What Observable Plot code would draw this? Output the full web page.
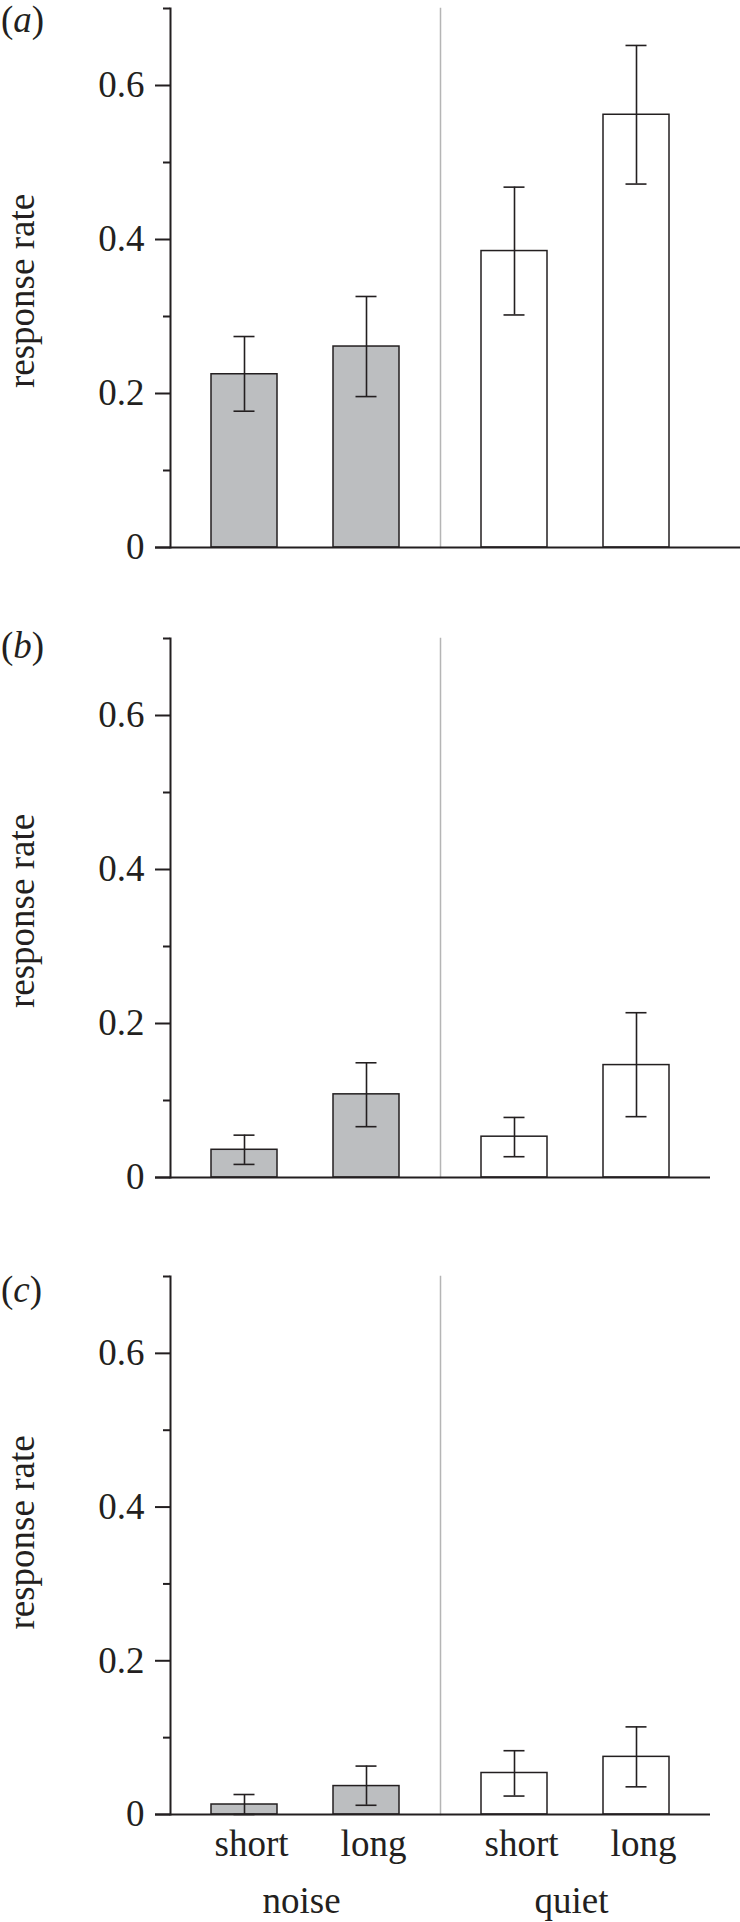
<!DOCTYPE html>
<html><head><meta charset="utf-8">
<script src="https://cdn.jsdelivr.net/npm/d3@7"></script>
<script src="https://cdn.jsdelivr.net/npm/@observablehq/plot@0.6"></script>
<style>
body{margin:0;background:#fff;}
#chart{position:relative;width:740px;height:1922px;background:#fff;font-family:"Liberation Serif","Times New Roman",serif;color:#231f20;}
#chart svg text, #chart svg tspan{font-family:"Liberation Serif","Times New Roman",serif;}
.panel{position:absolute;left:0;}
.plabel{position:absolute;left:1px;font-size:37px;line-height:1;color:#231f20;font-family:"Liberation Serif","Times New Roman",serif;}
</style></head><body><div id="chart"></div>
<script>
// ---- data ----
const panelLetters = ["a", "b", "c"];
const groups = ["noise", "noise", "quiet", "quiet"];
const lengths = ["short", "long", "short", "long"];
const groupOrder = ["noise", "quiet"];
const lengthOrder = ["short", "long"];

const meanA = [0.225, 0.261, 0.385, 0.562];
const lowA  = [0.177, 0.196, 0.302, 0.472];
const highA = [0.274, 0.326, 0.468, 0.652];

const meanB = [0.036, 0.108, 0.053, 0.146];
const lowB  = [0.017, 0.066, 0.027, 0.079];
const highB = [0.055, 0.149, 0.078, 0.214];

const meanC = [0.013, 0.037, 0.054, 0.075];
const lowC  = [0.000, 0.012, 0.024, 0.036];
const highC = [0.026, 0.063, 0.083, 0.114];

const majorTicks = [0, 0.2, 0.4, 0.6];
const minorTicks = [0.1, 0.3, 0.5, 0.7];
const yLabel = "response rate";

// ---- layout ----
const ink = "#231f20";
const fontSize = 37;
const serif = '"Liberation Serif","Times New Roman",serif';
const layouts = [
  {top: 0,    height: 620, marginTop: 8,  marginBottom: 73,  extendRight: -30, xLabels: false, labelTop: 1,    labelDy: 13},
  {top: 620,  height: 640, marginTop: 18, marginBottom: 83,  extendRight: 0,   xLabels: false, labelTop: 627,  labelDy: 3},
  {top: 1260, height: 662, marginTop: 16, marginBottom: 108, extendRight: 0,   xLabels: true,  labelTop: 1271, labelDy: -13}
];
const series = [[meanA, lowA, highA], [meanB, lowB, highB], [meanC, lowC, highC]];

function makePanel(means, lows, highs, cfg) {
  const rows = means.map((m, i) => ({group: groups[i], length: lengths[i], rate: m, lo: lows[i], hi: highs[i]}));
  const marks = [
    Plot.frame({anchor: "left", facetAnchor: "right", stroke: "#b5b5b5", strokeWidth: 1.5}),
    Plot.barY(rows, {fx: "group", x: "length", y: "rate",
      fill: d => d.group === "noise" ? "#bcbec0" : "#ffffff", stroke: ink, strokeWidth: 1.5}),
    Plot.ruleX(rows, {fx: "group", x: "length", y1: "lo", y2: "hi", stroke: ink, strokeWidth: 1.6}),
    Plot.tickY(rows, {fx: "group", x: "length", y: "lo", stroke: ink, strokeWidth: 1.6, insetLeft: 22.5, insetRight: 22.5}),
    Plot.tickY(rows, {fx: "group", x: "length", y: "hi", stroke: ink, strokeWidth: 1.6, insetLeft: 22.5, insetRight: 22.5}),
    Plot.frame({anchor: "left", facetAnchor: "left", stroke: ink, strokeWidth: 2}),
    Plot.ruleY([0], {facetAnchor: "left", insetLeft: -15, stroke: ink, strokeWidth: 2}),
    Plot.ruleY([0], {facetAnchor: "right", insetRight: cfg.extendRight, stroke: ink, strokeWidth: 2}),
    Plot.axisY({ticks: majorTicks, tickSize: 15, tickPadding: 11, strokeWidth: 2,
      tickFormat: d => d === 0 ? "0" : d3.format(".1f")(d), fontSize, fontFamily: serif, label: null}),
    Plot.axisY({ticks: minorTicks, tickSize: 7, strokeWidth: 2, tickFormat: () => "", label: null}),
    Plot.text([yLabel], {text: d => d, frameAnchor: "left", rotate: -90, dx: -148, dy: cfg.labelDy,
      facetAnchor: "left", fontSize, fontFamily: serif, lineAnchor: "middle", textAnchor: "middle", fill: ink})
  ];
  if (cfg.xLabels) {
    marks.push(
      Plot.axisX({tickSize: 0, tickPadding: 15, fontSize, fontFamily: serif, label: null, dx: 7}),
      Plot.axisFx({anchor: "bottom", tickSize: 0, tickPadding: 72, fontSize, fontFamily: serif, label: null, dx: -4})
    );
  }
  const svg = Plot.plot({
    width: 740,
    height: cfg.height,
    marginLeft: 170,
    marginRight: 30,
    marginTop: cfg.marginTop,
    marginBottom: cfg.marginBottom,
    style: {fontFamily: serif, fontSize: fontSize + "px", color: ink, background: "white", overflow: "visible"},
    x: cfg.xLabels ? {domain: lengthOrder, paddingInner: 0.46, paddingOuter: 0.334}
                   : {domain: lengthOrder, paddingInner: 0.46, paddingOuter: 0.334, axis: null},
    fx: cfg.xLabels ? {domain: groupOrder, paddingInner: 0, paddingOuter: 0}
                    : {domain: groupOrder, paddingInner: 0, paddingOuter: 0, axis: null},
    y: {domain: [0, 0.7]},
    marks
  });
  svg.setAttribute("font-family", serif);
  return svg;
}

const chart = document.getElementById("chart");
layouts.forEach((cfg, k) => {
  const [m, lo, hi] = series[k];
  const wrap = document.createElement("div");
  wrap.className = "panel";
  wrap.style.top = cfg.top + "px";
  wrap.appendChild(makePanel(m, lo, hi, cfg));
  chart.appendChild(wrap);
  const lab = document.createElement("div");
  lab.className = "plabel";
  lab.style.top = cfg.labelTop + "px";
  lab.innerHTML = "(<i>" + panelLetters[k] + "</i>)";
  chart.appendChild(lab);
});
</script>
</body></html>
